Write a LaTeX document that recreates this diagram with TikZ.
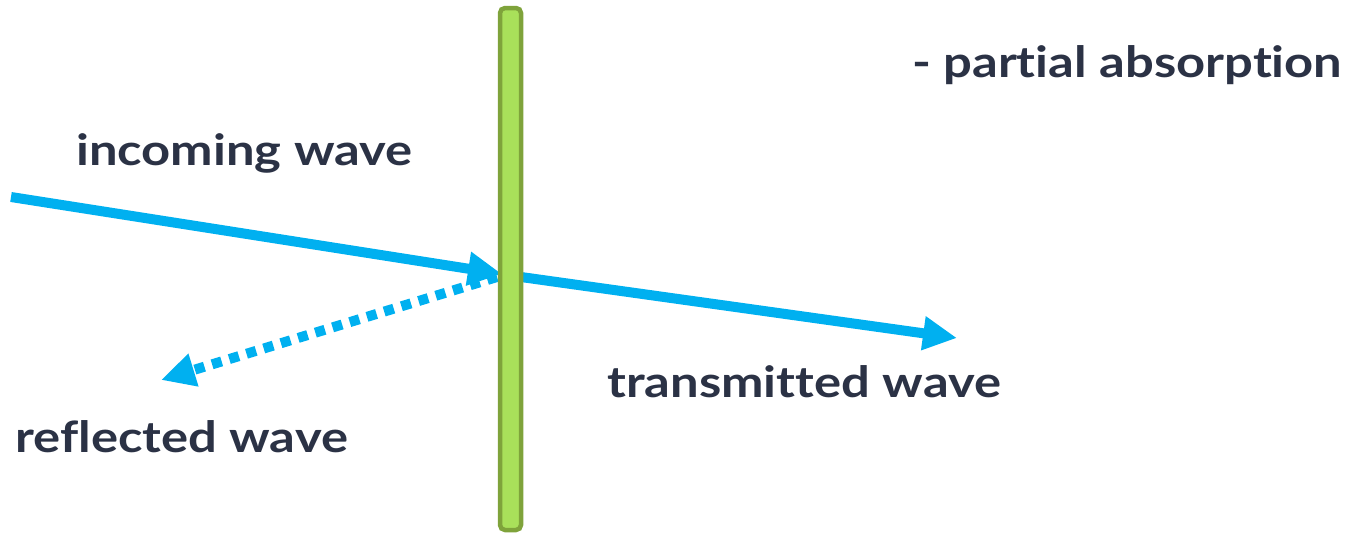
\documentclass[tikz,border=0pt]{standalone}
\usepackage{fontspec}
\setmainfont{Lato}[UprightFont=* Bold, FakeStretch=1.18, Ligatures={NoCommon,NoRare}]
\usetikzlibrary{arrows.meta}
\definecolor{wave}{HTML}{00B0F0}
\definecolor{plateFill}{HTML}{A9E05A}
\definecolor{plateEdge}{HTML}{7FA33B}
\definecolor{ink}{HTML}{2B3245}
\tikzset{
  ray/.style={draw=wave, line width=10pt,
    -{Triangle[length=34pt,width=32pt]}},
  dotray/.style={ray, dash pattern=on 10pt off 8pt},
  lbl/.style={text=ink, font=\fontsize{43}{50}\selectfont, anchor=base west, inner sep=0pt},
  plate/.style={draw=plateEdge, fill=plateFill, line width=4.5pt, rounded corners=5pt}
}
\begin{document}
\begin{tikzpicture}[x=1pt,y=-1pt]
\useasboundingbox (0,0) rectangle (1351,533);
% end points of the rays
\coordinate (src) at (11,197);
\coordinate (hit) at (502,274);
\coordinate (exitpt) at (521,277);
\coordinate (tip) at (957,338);
\coordinate (back) at (497,277);
\coordinate (refl) at (161,380);
% rays
\draw[ray] (src) -- (hit);
\draw[ray] (exitpt) -- (tip);
\draw[dotray] (back) -- (refl);
% the plate
\node[plate, minimum width=21pt, minimum height=522pt, inner sep=0pt] (slab) at (510.5,269) {};
% labels
\node[lbl] (inc) at (76,165) {incoming wave};
\node[lbl] (abs) at (912,77) {- partial absorption};
\node[lbl] (tra) at (607,397) {transmitted wave};
\node[lbl] (ref) at (15,452) {reflected wave};
\end{tikzpicture}
\end{document}
